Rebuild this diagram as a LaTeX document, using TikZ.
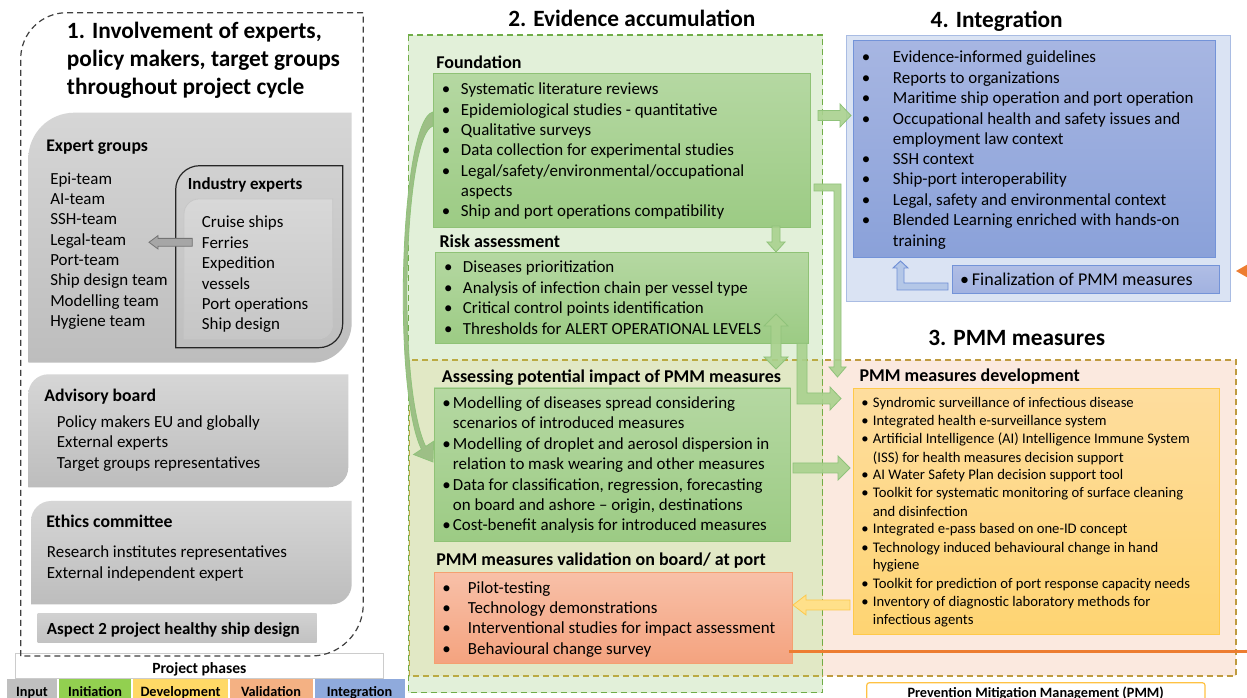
\documentclass[tikz,border=0pt]{standalone}
\usepackage{fontspec}
\setmainfont{Carlito}
\definecolor{grayTop}{HTML}{D6D6D6}
\definecolor{grayBot}{HTML}{BDBDBD}
\definecolor{grayInTop}{HTML}{D8D8D8}
\definecolor{grayInBot}{HTML}{C6C6C6}
\definecolor{evgreen}{HTML}{E2F0D9}
\definecolor{olivefill}{HTML}{E1E8C5}
\definecolor{peach}{HTML}{FBE9DF}
\definecolor{greendash}{HTML}{70AD47}
\definecolor{olivedash}{HTML}{BBAA42}
\definecolor{golddash}{HTML}{BF9B3F}
\definecolor{gbTop}{HTML}{B5D8A2}
\definecolor{gbBot}{HTML}{9CCB84}
\definecolor{gbEdge}{HTML}{8FC276}
\definecolor{vbTop}{HTML}{F8C0A8}
\definecolor{vbBot}{HTML}{F4A37F}
\definecolor{vbEdge}{HTML}{F4A070}
\definecolor{intOuter}{HTML}{DAE3F3}
\definecolor{intOuterEdge}{HTML}{A9BCE3}
\definecolor{ibTop}{HTML}{A7B6E2}
\definecolor{ibBot}{HTML}{8AA1D9}
\definecolor{ibEdge}{HTML}{7393D8}
\definecolor{ybTop}{HTML}{FEDD9E}
\definecolor{ybBot}{HTML}{FED472}
\definecolor{ybEdge}{HTML}{FFC94A}
\definecolor{arrgreen}{HTML}{A9D18E}
\definecolor{arrgreenedge}{HTML}{8FC27A}
\definecolor{arryellow}{HTML}{FFE08A}
\definecolor{arryellowedge}{HTML}{FCC94D}
\definecolor{arrblue}{HTML}{B4C7E7}
\definecolor{arrblueedge}{HTML}{6F8FD6}
\definecolor{pmmorange}{HTML}{ED7D31}
\definecolor{phInput}{HTML}{BFBFBF}
\definecolor{phInit}{HTML}{92D050}
\definecolor{phDev}{HTML}{FFD966}
\definecolor{phVal}{HTML}{F4B183}
\definecolor{phInt}{HTML}{8FAADC}

% box with rounded top-left and bottom-right corners:
% options, x1, y1, x2, y2, radius top-left, radius bottom-right
\newcommand\cutbox[7]{%
  \path[#1] ({#2},{#5}) -- ({#2},{#3+#6})
    .. controls ({#2},{#3+0.448*#6}) and ({#2+0.448*#6},{#3}) .. ({#2+#6},{#3})
    -- ({#4},{#3}) -- ({#4},{#5-#7})
    .. controls ({#4},{#5-0.448*#7}) and ({#4-0.448*#7},{#5}) .. ({#4-#7},{#5})
    -- cycle;}

\begin{document}
\begin{tikzpicture}[x=0.75pt,y=-0.75pt,
  ttl/.style={font=\fontsize{17.5}{21}\selectfont\bfseries, inner sep=0pt, anchor=mid, yshift=-2.8pt},
  hd/.style={font=\fontsize{13.5}{16}\selectfont\bfseries, inner sep=0pt, anchor=mid west, yshift=-2.2pt},
  tx/.style={font=\fontsize{12.7}{15}\selectfont, inner sep=0pt, anchor=mid west, yshift=-2.1pt},
  sm/.style={font=\fontsize{11}{13}\selectfont, inner sep=0pt, anchor=mid west, yshift=-1.8pt},
  bu/.style={font=\fontsize{12.7}{15}\selectfont, inner sep=0pt, anchor=mid, yshift=-2.1pt},
  sbu/.style={font=\fontsize{11}{13}\selectfont, inner sep=0pt, anchor=mid, yshift=-1.8pt},
  lg/.style={font=\fontsize{10.7}{13}\selectfont\bfseries, inner sep=0pt, anchor=base},
  garrow/.style={fill=arrgreen, draw=arrgreenedge, line width=0.6pt, fill opacity=0.9},
  gshade/.style={draw=gbEdge, line width=0.6pt, top color=gbTop, bottom color=gbBot},
]
\useasboundingbox (0,0) rectangle (1247,698);
\clip (0,0) rectangle (1247,698);
\fill[white] (0,0) rectangle (1247,698);

%% ---------- 1. Involvement column ----------
% project phases legend
\draw[draw=black!20, fill=white, line width=0.6pt] (15,653.3) rectangle (383.3,678.3);
\node[font=\fontsize{11.7}{14}\selectfont\bfseries, inner sep=0pt, anchor=base] (phases) at (199.3,673) {Project phases};
\fill[phInput] (7,679.3) rectangle (57,705);
\fill[phInit] (59,679.3) rectangle (131,705);
\fill[phDev] (133,679.3) rectangle (228,705);
\fill[phVal] (229.5,679.3) rectangle (313,705);
\fill[phInt] (314.5,679.3) rectangle (405,705);
\node[lg] (lgInput) at (32,696) {Input};
\node[lg] (lgInit) at (95,696) {Initiation};
\node[lg] (lgDev) at (180.5,696) {Development};
\node[lg] (lgVal) at (271,696) {Validation};
\node[lg] (lgInt) at (359.5,696) {Integration};

% dashed panel
\cutbox{draw=black!75, dash pattern=on 4.5pt off 3pt, line width=0.9pt}{20.7}{12.7}{363.3}{656}{46}{52}
\node[ttl, anchor=mid west] (t1a) at (66.7,31.7) {1. Involvement of experts,};
\node[ttl, anchor=mid west] (t1b) at (66.7,60) {policy makers, target groups};
\node[ttl, anchor=mid west] (t1c) at (66.7,87.3) {throughout project cycle};

% expert groups
\cutbox{top color=grayTop, bottom color=grayBot}{28.3}{112.7}{351.7}{362.7}{46}{40}
\node[hd, font=\fontsize{13.3}{16}\selectfont\bfseries] (expH) at (46,145) {Expert groups};
\node[tx] (ex1) at (50,178.3) {Epi-team};
\node[tx] (ex2) at (50,199) {AI-team};
\node[tx] (ex3) at (50,219) {SSH-team};
\node[tx] (ex4) at (50,239.3) {Legal-team};
\node[tx] (ex5) at (50,259.3) {Port-team};
\node[tx] (ex6) at (50,280) {Ship design team};
\node[tx] (ex7) at (50,300.7) {Modelling team};
\node[tx] (ex8) at (50,320.7) {Hygiene team};

% industry experts
\cutbox{draw=black!85, line width=0.9pt}{175.7}{165.7}{342.7}{347.7}{24}{24}
\cutbox{draw=black!22, line width=0.6pt, top color=grayInTop, bottom color=grayInBot}{184}{199}{332.7}{339}{15}{15}
\node[tx, font=\fontsize{12.7}{15}\selectfont\bfseries] (indH) at (187.7,183.3) {Industry experts};
\node[tx] (in1) at (201.7,221.7) {Cruise ships};
\node[tx] (in2) at (201.7,242.3) {Ferries};
\node[tx] (in3) at (201.7,262.7) {Expedition};
\node[tx] (in4) at (201.7,283.3) {vessels};
\node[tx] (in5) at (201.7,303.3) {Port operations};
\node[tx] (in6) at (201.7,324) {Ship design};
\draw[fill=black!35, draw=black!55, line width=0.6pt]
  (192.3,238.4) -- (158,238.4) -- (158,235.6) -- (149,242.3) -- (158,249) -- (158,246.2) -- (192.3,246.2) -- cycle;

% advisory board
\cutbox{top color=grayTop, bottom color=grayBot}{28.3}{374.3}{348.3}{487.3}{20}{20}
\node[hd, font=\fontsize{13.3}{16}\selectfont\bfseries] (advH) at (44,395) {Advisory board};
\node[tx] (ad1) at (56.7,421.7) {Policy makers EU and globally};
\node[tx] (ad2) at (56.7,441.7) {External experts};
\node[tx] (ad3) at (56.7,462.3) {Target groups representatives};

% ethics committee
\cutbox{top color=grayTop, bottom color=grayBot}{31}{501}{351.7}{604.3}{20}{20}
\node[hd, font=\fontsize{13.3}{16}\selectfont\bfseries] (ethH) at (46,521) {Ethics committee};
\node[tx] (et1) at (46.7,551.7) {Research institutes representatives};
\node[tx] (et2) at (46.7,572.3) {External independent expert};

% aspect 2
\path[top color=black!18, bottom color=black!24] (37.7,613.3) rectangle (316.7,642.7);
\node[tx, font=\fontsize{12.7}{15}\selectfont\bfseries] (asp) at (46.7,628.3) {Aspect 2 project healthy ship design};

%% ---------- region backgrounds ----------
\fill[evgreen] (408.3,35) rectangle (822.7,692.7);
\fill[olivefill] (409.3,360) rectangle (822.7,676);
\fill[peach] (822.7,360) rectangle (1236,676);
\draw[olivedash, dash pattern=on 4.5pt off 3pt, line width=0.8pt] (409.3,360) rectangle (822.7,676);
\draw[golddash, dash pattern=on 4.5pt off 3pt, line width=0.8pt] (822.7,360) rectangle (1236,676);
\draw[greendash, dash pattern=on 4.5pt off 3pt, line width=0.8pt] (408.3,35) rectangle (822.7,692.7);

%% ---------- 2. Evidence accumulation ----------
\node[ttl] (t2) at (631.8,20) {2. Evidence accumulation};

\node[hd] (fndH) at (436,62.7) {Foundation};
\path[gshade] (433.3,73.3) rectangle (810.7,227.3);
\foreach \yy [count=\i] in {89,109.3,130,150,170.7,211}
  \node[bu] (fb\i) at (446,\yy) {•};
\node[tx] (f1) at (460.7,89) {Systematic literature reviews};
\node[tx] (f2) at (460.7,109.3) {Epidemiological studies - quantitative};
\node[tx] (f3) at (460.7,130) {Qualitative surveys};
\node[tx] (f4) at (460.7,150) {Data collection for experimental studies};
\node[tx] (f5) at (460.7,170.7) {Legal/safety/environmental/occupational};
\node[tx] (f5b) at (460.7,191) {aspects};
\node[tx] (f6) at (460.7,211) {Ship and port operations compatibility};

\node[hd] (rskH) at (439.3,241.7) {Risk assessment};
\path[gshade] (435.7,252.3) rectangle (808.7,343.3);
\foreach \yy [count=\i] in {266.7,287.3,307.3,328.3}
  \node[bu] (rb\i) at (448.3,\yy) {•};
\node[tx] (r1) at (462.7,266.7) {Diseases prioritization};
\node[tx] (r2) at (462.7,287.3) {Analysis of infection chain per vessel type};
\node[tx] (r3) at (462.7,307.3) {Critical control points identification};
\node[tx] (r4) at (462.7,328.3) {Thresholds for ALERT OPERATIONAL LEVELS};

\node[hd] (ipaH) at (441.7,376) {Assessing potential impact of PMM measures};
\path[gshade] (434,388) rectangle (790.7,541.7);
\foreach \yy [count=\i] in {402.3,443.3,484.3,525}
  \node[bu] (ab\i) at (446.5,\yy) {•};
\node[tx] (a1) at (452.7,402.3) {Modelling of diseases spread considering};
\node[tx] (a1b) at (452.7,422.7) {scenarios of introduced measures};
\node[tx] (a2) at (452.7,443.3) {Modelling of droplet and aerosol dispersion in};
\node[tx] (a2b) at (452.7,464) {relation to mask wearing and other measures};
\node[tx] (a3) at (452.7,484.3) {Data for classification, regression, forecasting};
\node[tx] (a3b) at (452.7,504.7) {on board and ashore – origin, destinations};
\node[tx] (a4) at (452.7,525) {Cost-benefit analysis for introduced measures};

\node[hd] (valH) at (436,559.3) {PMM measures validation on board/ at port};
\path[draw=vbEdge, line width=0.6pt, top color=vbTop, bottom color=vbBot] (434.3,572.3) rectangle (792.7,663.3);
\foreach \yy [count=\i] in {587.3,607.7,627.7,648.3}
  \node[bu] (vb\i) at (446.7,\yy) {•};
\node[tx] (v1) at (467.7,587.3) {Pilot-testing};
\node[tx] (v2) at (467.7,607.7) {Technology demonstrations};
\node[tx] (v3) at (467.7,627.7) {Interventional studies for impact assessment};
\node[tx] (v4) at (467.7,648.3) {Behavioural change survey};

%% ---------- 4. Integration ----------
\node[ttl] (t4) at (996.7,20.7) {4. Integration};
\draw[fill=intOuter, draw=intOuterEdge, line width=0.7pt] (846.7,35) rectangle (1230.7,301.7);
\path[draw=ibEdge, line width=0.7pt, top color=ibTop, bottom color=ibBot] (853.3,40.7) rectangle (1215,257.3);
\foreach \yy [count=\i] in {56.7,77.3,97.7,118.3,159,179,200,220}
  \node[bu] (ib\i) at (866,\yy) {•};
\node[tx] (g1) at (892.7,56.7) {Evidence-informed guidelines};
\node[tx] (g2) at (892.7,77.3) {Reports to organizations};
\node[tx] (g3) at (892.7,97.7) {Maritime ship operation and port operation};
\node[tx] (g4) at (892.7,118.3) {Occupational health and safety issues and};
\node[tx] (g4b) at (892.7,138.3) {employment law context};
\node[tx] (g5) at (892.7,159) {SSH context};
\node[tx] (g6) at (892.7,179) {Ship-port interoperability};
\node[tx] (g7) at (892.7,200) {Legal, safety and environmental context};
\node[tx] (g8) at (892.7,220) {Blended Learning enriched with hands-on};
\node[tx] (g8b) at (892.7,240.7) {training};
\path[draw=ibEdge, line width=0.7pt, top color=ibTop!90!white, bottom color=ibTop!80!ibBot] (952.3,265.7) rectangle (1219.3,293.3);
\node[bu, font=\fontsize{13.5}{16}\selectfont] (finb) at (964.5,279.3) {•};
\node[tx, font=\fontsize{13.5}{16}\selectfont] (fin) at (971.7,279.3) {Finalization of PMM measures};
\draw[fill=arrblue, draw=arrblueedge, line width=0.7pt]
  (948,283) -- (904,283) -- (904,268) -- (908,268) -- (900.5,261) -- (893,268) -- (897,268) -- (897,290) -- (948,290) -- cycle;
\fill[pmmorange] (1236,271) -- (1250,263) -- (1250,279) -- cycle;

%% ---------- 3. PMM measures ----------
\node[ttl] (t3) at (1016.7,338.3) {3. PMM measures};
\node[hd] (devH) at (859.3,375) {PMM measures development};
\path[draw=ybEdge, line width=0.7pt, top color=ybTop, bottom color=ybBot] (853.3,388.3) rectangle (1219,634.3);
\foreach \yy [count=\i] in {401.7,420,438.3,474,492.3,528.3,546.7,582.7,600.7}
  \node[sbu] (db\i) at (865,\yy) {•};
\node[sm] (d1) at (872.7,401.7) {Syndromic surveillance of infectious disease};
\node[sm] (d2) at (872.7,420) {Integrated health e-surveillance system};
\node[sm] (d3) at (872.7,438.3) {Artificial Intelligence (AI) Intelligence Immune System};
\node[sm] (d3b) at (872.7,456.7) {(ISS) for health measures decision support};
\node[sm] (d4) at (872.7,474) {AI Water Safety Plan decision support tool};
\node[sm] (d5) at (872.7,492.3) {Toolkit for systematic monitoring of surface cleaning};
\node[sm] (d5b) at (872.7,510.7) {and disinfection};
\node[sm] (d6) at (872.7,528.3) {Integrated e-pass based on one-ID concept};
\node[sm] (d7) at (872.7,546.7) {Technology induced behavioural change in hand};
\node[sm] (d7b) at (872.7,564.3) {hygiene};
\node[sm] (d8) at (872.7,582.7) {Toolkit for prediction of port response capacity needs};
\node[sm] (d9) at (872.7,600.7) {Inventory of diagnostic laboratory methods for};
\node[sm] (d9b) at (872.7,618.7) {infectious agents};

\draw[rounded corners=2pt, draw=ybEdge!90!orange, fill=white, line width=0.9pt] (866.7,682.7) rectangle (1205,710);
\node[lg] (pmmdef) at (1035.7,697.5) {Prevention Mitigation Management (PMM)};

%% ---------- connectors ----------
\coordinate (rightedge) at (1247,651.5);
\draw[pmmorange, line width=2.3pt] (789,651.5) -- (rightedge);

% foundation -> integration
\path[garrow] (818,110.5) -- (840,110.5) -- (840,104) -- (851,115.5) -- (840,127) -- (840,120.5) -- (818,120.5) -- cycle;
% foundation -> PMM measures development
\path[garrow] (814,184) -- (841,184) -- (841,367) -- (846,367) -- (837.5,377) -- (829,367) -- (834,367) -- (834,191) -- (814,191) -- cycle;
% foundation -> risk assessment
\path[garrow] (772,226) -- (780,226) -- (780,242) -- (785,242) -- (776,252) -- (767,242) -- (772,242) -- cycle;
% risk assessment <-> impact assessment
\path[garrow] (776,314) -- (788,326) -- (781,326) -- (781,357) -- (788,357) -- (776,369) -- (764,357) -- (771,357) -- (771,326) -- (764,326) -- cycle;
% risk assessment -> PMM measures development
\path[garrow] (797,343.3) -- (807,343.3) -- (807,393) -- (830,393) -- (830,387) -- (841,398.5) -- (830,410) -- (830,404) -- (797,404) -- cycle;
% impact assessment -> PMM measures development
\path[garrow] (793,463) -- (838,463) -- (838,456) -- (850,468) -- (838,480) -- (838,473) -- (793,473) -- cycle;
% PMM measures development -> validation
\path[fill=arryellow, draw=arryellowedge, line width=0.6pt] (850,600) -- (806,600) -- (806,595) -- (793,605) -- (806,615) -- (806,610) -- (850,610) -- cycle;
% foundation -> impact assessment (curved)
\path[fill=arrgreen!90!black!95, draw=arrgreenedge, line width=0.6pt]
  (433,112) .. controls (400,120) and (392,390) .. (421.5,449.3)
  -- (413.6,454.5) -- (433,462) -- (433.6,441.3) -- (425.7,446.5)
  .. controls (396,385) and (404,134) .. (433,126) -- cycle;
\end{tikzpicture}
\end{document}
